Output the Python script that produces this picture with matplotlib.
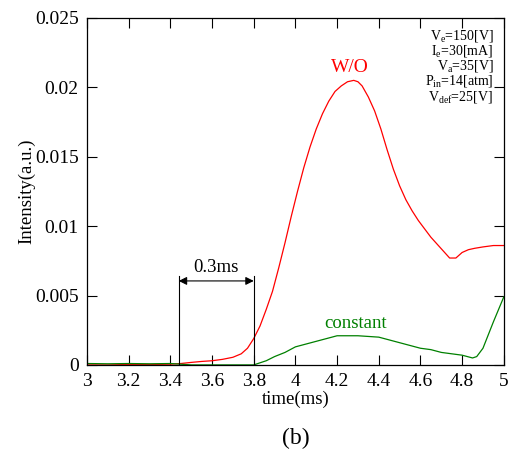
import numpy as np
import matplotlib
matplotlib.use('Agg')
import matplotlib.pyplot as plt

plt.rcParams['font.family'] = ['Liberation Serif', 'DejaVu Serif']
plt.rcParams['mathtext.fontset'] = 'custom'
plt.rcParams['mathtext.rm'] = 'Liberation Serif'

# W/O signal
t_wo = [3.0, 3.1, 3.2, 3.3, 3.4, 3.45, 3.5, 3.55, 3.6, 3.65, 3.7, 3.74, 3.77,
        3.8, 3.83, 3.86, 3.89, 3.92, 3.95, 3.98, 4.01, 4.04, 4.07, 4.1, 4.13,
        4.16, 4.19, 4.22, 4.25, 4.28, 4.3, 4.32, 4.35, 4.38, 4.41, 4.44, 4.47,
        4.5, 4.53, 4.56, 4.59, 4.62, 4.65, 4.68, 4.71, 4.74, 4.77, 4.8, 4.83,
        4.86, 4.9, 4.95, 5.0]
i_wo = [0.0, 0.0, 0.00003, 0.00003, 0.00005, 0.0001, 0.00018, 0.00025, 0.0003,
        0.0004, 0.00055, 0.0008, 0.0012, 0.0019, 0.0028, 0.0040, 0.0053, 0.0070,
        0.0088, 0.0107, 0.0125, 0.0142, 0.0157, 0.0170, 0.0181, 0.0190, 0.0197,
        0.0201, 0.0204, 0.0205, 0.0204, 0.0201, 0.0193, 0.0183, 0.0170, 0.0155,
        0.0141, 0.0129, 0.0119, 0.0111, 0.0104, 0.0098, 0.0092, 0.0087, 0.0082,
        0.0077, 0.0077, 0.0081, 0.0083, 0.0084, 0.0085, 0.0086, 0.0086]

# constant signal
t_c = [3.0, 3.1, 3.2, 3.3, 3.4, 3.45, 3.5, 3.8, 3.82, 3.86, 3.9, 3.95, 4.0,
       4.05, 4.1, 4.15, 4.2, 4.25, 4.3, 4.35, 4.4, 4.45, 4.5, 4.55, 4.6, 4.65,
       4.7, 4.75, 4.8, 4.85, 4.87, 4.9, 4.95, 5.0]
i_c = [0.0001, 0.00008, 0.0001, 0.00008, 0.0001, 0.00005, 0.0, 0.0, 0.0001,
       0.0003, 0.0006, 0.0009, 0.0013, 0.0015, 0.0017, 0.0019, 0.0021, 0.0021,
       0.0021, 0.00205, 0.0020, 0.0018, 0.0016, 0.0014, 0.0012, 0.0011, 0.0009,
       0.0008, 0.0007, 0.0005, 0.0006, 0.0012, 0.0031, 0.0049]

xticks = [3, 3.2, 3.4, 3.6, 3.8, 4, 4.2, 4.4, 4.6, 4.8, 5]
xticklabels = ['3', '3.2', '3.4', '3.6', '3.8', '4', '4.2', '4.4', '4.6', '4.8', '5']
yticks = [0, 0.005, 0.01, 0.015, 0.02, 0.025]
yticklabels = ['0', '0.005', '0.01', '0.015', '0.02', '0.025']

delay_start = 3.44
delay_end = 3.8
params = [r'V$_\mathrm{e}$=150[V]', r'I$_\mathrm{e}$=30[mA]', r'V$_\mathrm{a}$=35[V]',
          r'P$_\mathrm{in}$=14[atm]', r'V$_\mathrm{def}$=25[V]']

fig = plt.figure(figsize=(5.12, 4.59), dpi=100)
ax = fig.add_axes([0.170, 0.205, 0.814, 0.756])

ax.plot(t_wo, i_wo, color='#ff0000', lw=0.9)
ax.plot(t_c, i_c, color='#008000', lw=0.9)

ax.set_xlim(3, 5)
ax.set_ylim(0, 0.025)
ax.set_xticks(xticks)
ax.set_xticklabels(xticklabels)
ax.set_yticks(yticks)
ax.set_yticklabels(yticklabels)
ax.tick_params(direction='in', length=7, width=0.8, labelsize=14,
               top=True, right=True)
ax.tick_params(axis='x', pad=6)
ax.tick_params(axis='y', pad=6)
for s in ax.spines.values():
    s.set_linewidth(0.9)

ax.set_xlabel('time(ms)', fontsize=13.5, labelpad=0)
ax.set_ylabel('Intensity(a.u.)', fontsize=13.5, labelpad=0)

# delay bracket
ax.plot([delay_start, delay_start], [0, 0.0064], color='black', lw=0.8)
ax.plot([delay_end, delay_end], [0, 0.0064], color='black', lw=0.8)
ax.annotate('', xy=(delay_start, 0.00605), xytext=(delay_end, 0.00605),
            arrowprops=dict(arrowstyle='<|-|>', color='black', lw=0.8,
                            shrinkA=0, shrinkB=0, mutation_scale=12))
ax.text((delay_start + delay_end) / 2, 0.0064, '0.3ms', fontsize=13.5,
        ha='center', va='bottom')

ax.text(4.26, 0.0208, 'W/O', color='#ff0000', fontsize=14, ha='center', va='bottom')
ax.text(4.29, 0.00235, 'constant', color='#008000', fontsize=13.5, ha='center', va='bottom')

for k, p in enumerate(params):
    ax.text(0.975, 0.972 - k * 0.044, p, transform=ax.transAxes, fontsize=10,
            ha='right', va='top')

fig.text(0.578, 0.045, '(b)', fontsize=17, ha='center', va='center')

fig.savefig('out.png', dpi=100)
